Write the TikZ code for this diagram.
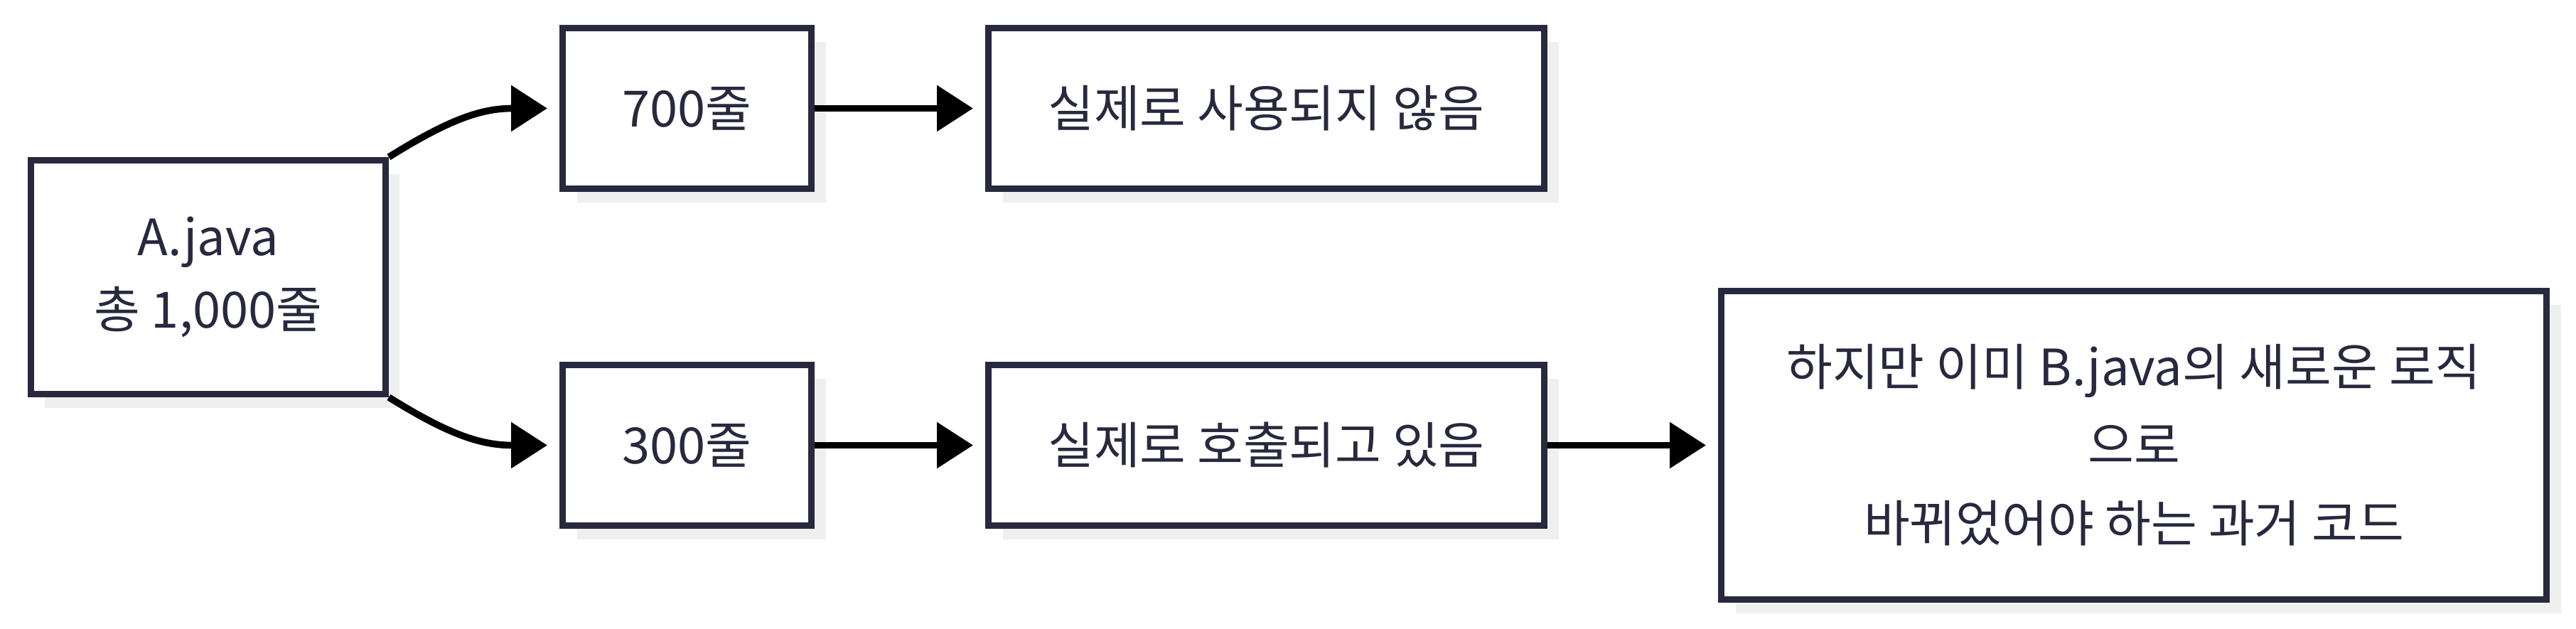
\documentclass[tikz,border=0pt]{standalone}
\usepackage{fontspec}
\setmainfont{Noto Sans CJK KR}
\usetikzlibrary{positioning,arrows.meta,shadows}
\definecolor{bd}{RGB}{40,40,62}
\definecolor{sh}{RGB}{239,239,239}

\begin{document}
\begin{tikzpicture}[%
  box/.style={draw=bd,line width=2.25pt,fill=white,text=bd,align=center,inner sep=0pt,%
    font=\fontsize{17.6pt}{25.5pt}\selectfont,minimum height=56.5pt,%
    drop shadow={shadow xshift=5pt,shadow yshift=-5pt,fill=sh,opacity=1}},%
  arr/.style={-{Triangle[length=12.75pt,width=15.75pt]},line width=2.4pt,shorten >=4.25pt}%
  ]
  \useasboundingbox (-73.25pt,-123.75pt) rectangle (832.75pt,97.5pt);
  \node (a) [box,minimum width=124.75pt,minimum height=82.25pt] {A.java\\총 1,000줄};
%
  \node (l700) [box,minimum width=87.5pt,above right=-12.25pt and 60pt of a] {700줄};
  \node (l300) [box,minimum width=87.5pt,below right=-12.5pt and 60pt of a] {300줄};
%
  \node (unused) [box,minimum width=195.5pt,right=60pt of l700] {실제로 사용되지 않음};
  \node (called) [box,minimum width=195.5pt,right=60pt of l300] {실제로 호출되고 있음};
%
  \node (old) [box,minimum width=290.25pt,minimum height=108.5pt,right=60pt of called,
    font=\fontsize{17.6pt}{27.5pt}\selectfont]
    {하지만 이미 B.java의 새로운 로직\\으로\\바뀌었어야 하는 과거 코드};
%
  \draw[arr] (a.north east) .. controls +(21.25pt,13.25pt) and +(-27.5pt,0pt) .. (l700.west);
  \draw[arr] (a.south east) .. controls +(21.25pt,-13.25pt) and +(-27.5pt,0pt) .. (l300.west);
%
  \draw[arr] (l700) -- (unused);
  \draw[arr] (l300) -- (called);
  \draw[arr] (called) -- (old);
%
\end{tikzpicture}
\end{document}
